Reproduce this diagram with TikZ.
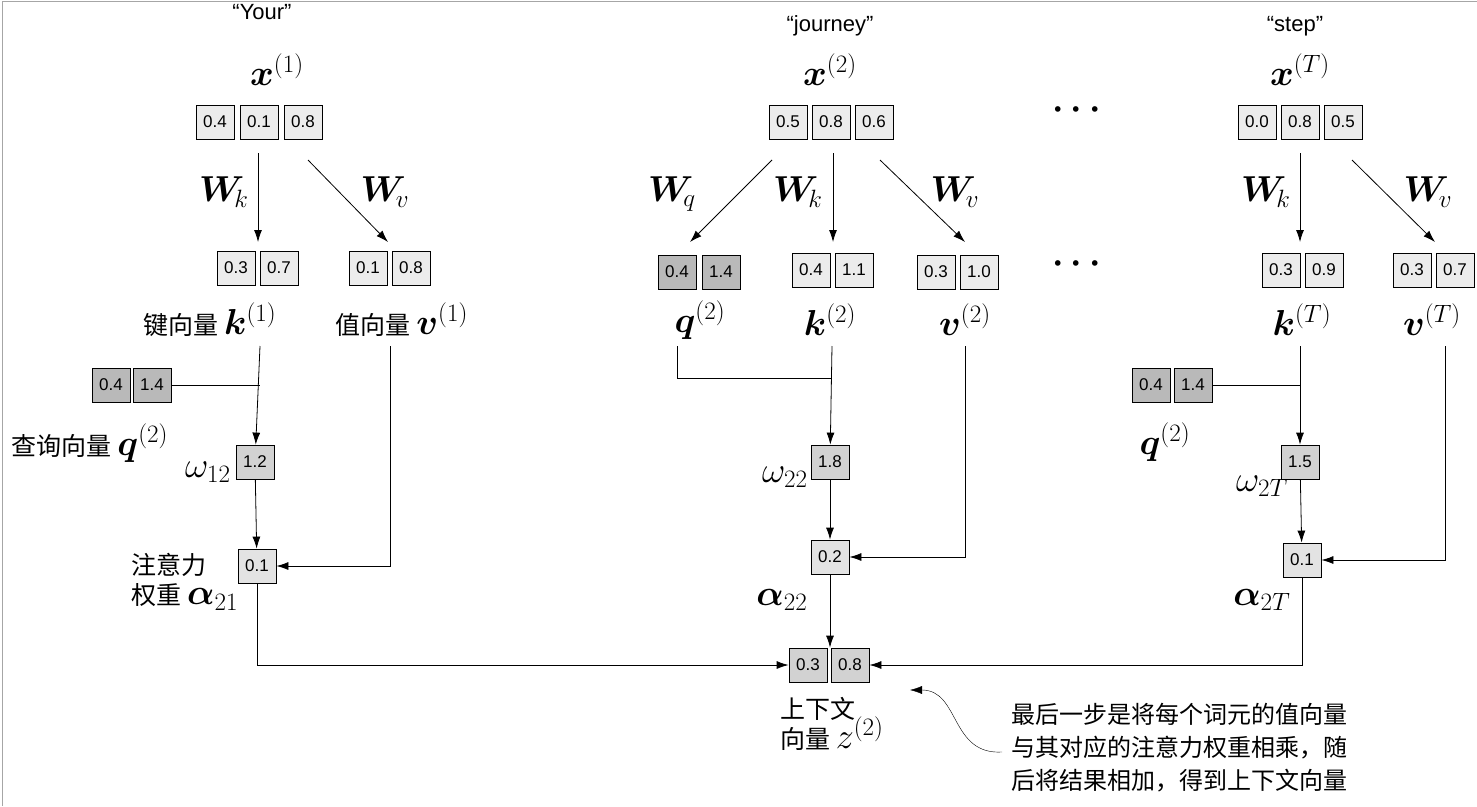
\documentclass[tikz,border=0pt]{standalone}
\usepackage{amsmath,bm}
\usepackage{graphicx}
\usepackage{fontspec}
\setsansfont{Liberation Sans}
\newfontfamily\cjk{Noto Sans CJK SC}
\usetikzlibrary{arrows.meta}
\newcommand{\mlab}[1]{\scalebox{1.45}{$#1$}}
\tikzset{
  cell/.style={draw, thick, fill=gray!15, minimum width=38pt, minimum height=34pt, inner sep=0pt, font=\sffamily\fontsize{17}{19}\selectfont},
  qcell/.style={cell, fill=gray!55},
  wcell/.style={cell, fill=gray!35},
  acell/.style={cell, fill=gray!22},
  lab/.style={font=\fontsize{24}{28}\selectfont},
  zh/.style={font=\cjk\fontsize{25}{34}\selectfont},
  word/.style={font=\sffamily\fontsize{22}{26}\selectfont},
  arr/.style={-{Latex[length=12pt,width=8pt]}, thick},
  ln/.style={thick}
}
\begin{document}
\begin{tikzpicture}[x=1pt,y=-1pt]
    \useasboundingbox (0,0) rectangle (1477,806);
    \draw[gray!70, thick] (2,806) -- (2,1) -- (1477,1);

    % first token
    \node[word] (w1) at (262,12) {``Your''};
    \node[lab] (x1) at (277,70) {\mlab{\bm{x}^{(1)}}};
    \node[cell] (x1a) at (215,122) {0.4};
    \node[cell] (x1b) at (259,122) {0.1};
    \node[cell] (x1c) at (303,122) {0.8};
    \node[cell] (k1a) at (236,268) {0.3};
    \node[cell] (k1b) at (279,268) {0.7};
    \node[cell] (v1a) at (368,268) {0.1};
    \node[cell] (v1b) at (411,268) {0.8};
    \coordinate (k1t) at (258,242);
    \coordinate (v1t) at (388,242);
    \draw[arr] (258,153) -- (k1t);
    \draw[arr] (308,160) -- (v1t);
    \node[lab] (wk1) at (224,192) {\mlab{\bm{W}_{\!k}}};
    \node[lab] (wv1) at (385,192) {\mlab{\bm{W}_{\!v}}};
    \node[zh] (k1) at (210,320) {键向量 \mlab{\bm{k}^{(1)}}};
    \node[zh] (v1) at (402,320) {值向量 \mlab{\bm{v}^{(1)}}};
    \node[qcell] (q1a) at (111,385) {0.4};
    \node[qcell] (q1b) at (152,385) {1.4};
    \node[zh] (q1) at (90,443) {查询向量 \mlab{\bm{q}^{(2)}}};
    \node[wcell] (om1) at (255,462) {1.2};
    \node[lab] (om1l) at (208,472) {\mlab{\omega_{12}}};
    \node[acell] (al1) at (257,566) {0.1};
    \node[zh, align=left] (al1l) at (185,582) {注意力\\[-4pt]权重 \mlab{\bm{\alpha}_{21}}};
    \draw[ln] (q1b) -- (260,385);
    \draw[arr] (260,346) -- (om1);
    \draw[arr] (om1) -- (al1);
    \draw[arr] (390,346) |- (al1);

    % second token
    \node[word] (w2) at (830,26) {``journey''};
    \node[lab] (x2) at (830,70) {\mlab{\bm{x}^{(2)}}};
    \node[cell] (x2a) at (788,122) {0.5};
    \node[cell] (x2b) at (831,122) {0.8};
    \node[cell] (x2c) at (874,122) {0.6};
    \node[qcell] (q2a) at (677,272) {0.4};
    \node[qcell] (q2b) at (721,272) {1.4};
    \node[cell] (k2a) at (811,270) {0.4};
    \node[cell] (k2b) at (854,270) {1.1};
    \node[cell] (v2a) at (936,272) {0.3};
    \node[cell] (v2b) at (979,272) {1.0};
    \coordinate (q2t) at (690,242);
    \coordinate (k2t) at (833,242);
    \coordinate (v2t) at (965,242);
    \draw[arr] (772,160) -- (q2t);
    \draw[arr] (833,153) -- (k2t);
    \draw[arr] (880,160) -- (v2t);
    \node[lab] (wq2) at (672,194) {\mlab{\bm{W}_{\!q}}};
    \node[lab] (wk2) at (798,192) {\mlab{\bm{W}_{\!k}}};
    \node[lab] (wv2) at (955,192) {\mlab{\bm{W}_{\!v}}};
    \node[lab] (q2) at (700,320) {\mlab{\bm{q}^{(2)}}};
    \node[lab] (k2) at (830,320) {\mlab{\bm{k}^{(2)}}};
    \node[lab] (v2) at (965,320) {\mlab{\bm{v}^{(2)}}};
    \node[wcell] (om2) at (830,462) {1.8};
    \node[lab] (om2l) at (785,477) {\mlab{\omega_{22}}};
    \node[acell] (al2) at (830,557) {0.2};
    \node[lab] (al2l) at (782,600) {\mlab{\bm{\alpha}_{22}}};
    \draw[ln] (677,346) |- (832,378);
    \draw[arr] (832,346) -- (om2);
    \draw[arr] (om2) -- (al2);
    \draw[arr] (965,346) |- (al2);

    % dots
    \node[lab] (d1) at (1080,110) {\mlab{\bm{\cdots}}};
    \node[lab] (d2) at (1080,264) {\mlab{\bm{\cdots}}};

    % last token
    \node[word] (w3) at (1295,26) {``step''};
    \node[lab] (x3) at (1300,70) {\mlab{\bm{x}^{(T)}}};
    \node[cell] (x3a) at (1257,122) {0.0};
    \node[cell] (x3b) at (1300,122) {0.8};
    \node[cell] (x3c) at (1343,122) {0.5};
    \node[cell] (k3a) at (1281,270) {0.3};
    \node[cell] (k3b) at (1324,270) {0.9};
    \node[cell] (v3a) at (1412,270) {0.3};
    \node[cell] (v3b) at (1455,270) {0.7};
    \coordinate (k3t) at (1300,242);
    \coordinate (v3t) at (1435,242);
    \draw[arr] (1300,153) -- (k3t);
    \draw[arr] (1352,160) -- (v3t);
    \node[lab] (wk3) at (1266,192) {\mlab{\bm{W}_{\!k}}};
    \node[lab] (wv3) at (1428,192) {\mlab{\bm{W}_{\!v}}};
    \node[lab] (k3) at (1302,320) {\mlab{\bm{k}^{(T)}}};
    \node[lab] (v3) at (1432,320) {\mlab{\bm{v}^{(T)}}};
    \node[qcell] (q3a) at (1151,385) {0.4};
    \node[qcell] (q3b) at (1193,385) {1.4};
    \node[lab] (q3) at (1165,442) {\mlab{\bm{q}^{(2)}}};
    \node[wcell] (om3) at (1300,462) {1.5};
    \node[lab] (om3l) at (1262,486) {\mlab{\omega_{2T}}};
    \node[acell] (al3) at (1302,560) {0.1};
    \node[lab] (al3l) at (1262,600) {\mlab{\bm{\alpha}_{2T}}};
    \draw[ln] (q3b) -- (1300,385);
    \draw[arr] (1300,346) -- (om3);
    \draw[arr] (om3) -- (al3);
    \draw[arr] (1445,346) |- (al3);

    % context vector
    \node[cell, fill=gray!35] (za) at (808,665) {0.3};
    \node[cell, fill=gray!35] (zb) at (850,665) {0.8};
    \node[zh, align=left] (zl) at (832,724) {上下文\\[-4pt]向量 \mlab{z^{(2)}}};
    \draw[arr] (al1) |- (za);
    \draw[arr] (al2) -- (za.north -| al2);
    \draw[arr] (al3) |- (zb);

    % note
    \node[zh, align=left, anchor=north west, font=\cjk\fontsize{24}{33}\selectfont] (note) at (1008,700)
      {最后一步是将每个词元的值向量\\与其对应的注意力权重相乘，随\\后将结果相加，得到上下文向量};
    \draw[-{Latex[length=12pt,width=8pt]}] (1002,752) .. controls (950,755) and (960,690) .. (910,690);
\end{tikzpicture}
\end{document}
